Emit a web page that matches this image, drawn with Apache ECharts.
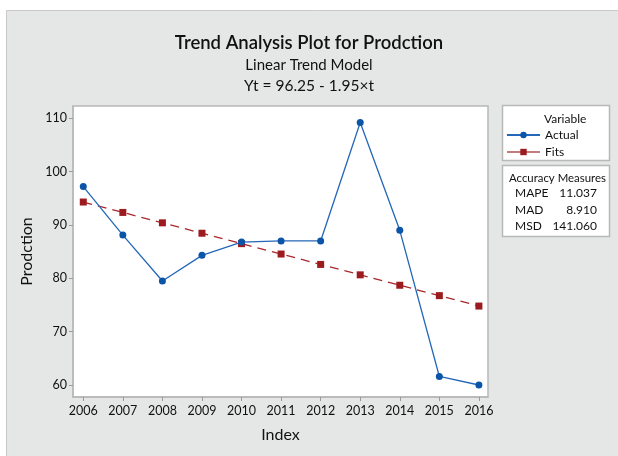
<!DOCTYPE html>
<html><head><meta charset="utf-8">
<script src="https://cdn.jsdelivr.net/npm/echarts@6/dist/echarts.min.js"></script>
<style>html,body{margin:0;padding:0;background:#fff}#c{width:618px;height:456px}</style>
</head><body><div id="c"></div>
<script>
const years = [2006,2007,2008,2009,2010,2011,2012,2013,2014,2015,2016];
const actual = [97.2,88.1,79.5,84.3,86.8,87.0,87.0,109.2,89.0,61.6,60.0];
const fits = [94.30,92.35,90.40,88.45,86.50,84.55,82.60,80.65,78.70,76.75,74.80];
const yTicks = [60,70,80,90,100,110];
const measureNames = ['MAPE','MAD','MSD'];
const measureValues = ['11.037','8.910','141.060'];

const FONT = 'Lato, "Open Sans", sans-serif';
const chart = echarts.init(document.getElementById('c'));
const txt = (x,y,s,opt) => Object.assign({type:'text',x:x,y:y,style:Object.assign({text:s,fill:'#111',font:'12px '+FONT,textVerticalAlign:'middle'},opt||{})});
const graphics = [
  {type:'rect',shape:{x:6.5,y:10.5,width:620,height:460},style:{fill:'#e5e6e6',stroke:'#c9c9c9',lineWidth:1},z:-10},
  {type:'rect',shape:{x:502.5,y:105.5,width:107,height:55},style:{fill:'#fff',stroke:'#b8b8b8',lineWidth:1.5},z:0},
  {type:'rect',shape:{x:502.5,y:165.5,width:107,height:71},style:{fill:'#fff',stroke:'#b8b8b8',lineWidth:1.5},z:0},
  txt(544,119,'Variable',{font:'12px '+FONT}),
  txt(509,178,'Accuracy Measures',{font:'11.4px '+FONT}),
];
measureNames.forEach((n,i)=>{
  const y = [193,210,226][i];
  graphics.push(txt(515,y,n,{font:'12px '+FONT}));
  graphics.push(txt(597,y,measureValues[i],{font:'12px '+FONT,textAlign:'right'}));
});
chart.setOption({
  animation:false,
  backgroundColor:'#fff',
  title:[
    {text:'Trend Analysis Plot for Prodction',left:'center',top:29,textStyle:{fontFamily:FONT,fontSize:18.5,fontWeight:600,color:'#111'}},
    {text:'Linear Trend Model',left:'center',top:53,textStyle:{fontFamily:FONT,fontSize:15,fontWeight:'normal',color:'#111'}},
    {text:'Yt = 96.25 - 1.95\u00d7t',left:'center',top:73,textStyle:{fontFamily:FONT,fontSize:15.5,fontWeight:'normal',color:'#111'}}
  ],
  graphic:graphics,
  legend:{
    orient:'vertical',left:501,top:124,itemWidth:33,itemHeight:8,itemGap:5,
    textStyle:{fontFamily:FONT,fontSize:12,color:'#111'},
    data:[
      {name:'Actual'},
      {name:'Fits',itemStyle:{color:'#9c1b1f'},lineStyle:{color:'#c47b7b',type:'solid'}}
    ]
  },
  grid:{left:73,right:130,top:106,bottom:59,show:true,backgroundColor:'#fff',borderColor:'#b8b8b8',borderWidth:1.5},
  xAxis:{
    type:'value',min:2005.74,max:2016.23,
    name:'Index',nameLocation:'middle',nameGap:30,
    nameTextStyle:{fontFamily:FONT,fontSize:16,color:'#111'},
    axisLine:{show:true,lineStyle:{color:'#b8b8b8',width:1.5}},
    axisTick:{show:true,length:4,lineStyle:{color:'#999'},customValues:years},
    axisLabel:{customValues:years,fontFamily:FONT,fontSize:12.5,color:'#111',margin:7,formatter:v=>String(Math.round(v))},
    splitLine:{show:false}
  },
  yAxis:{
    type:'value',min:57.75,max:112.3,
    name:'Prodction',nameLocation:'middle',nameGap:30,nameRotate:90,
    nameTextStyle:{fontFamily:FONT,fontSize:16,color:'#111'},
    axisLine:{show:true,lineStyle:{color:'#b8b8b8',width:1.5}},
    axisTick:{show:true,length:4,lineStyle:{color:'#999'},customValues:yTicks},
    axisLabel:{customValues:yTicks,fontFamily:FONT,fontSize:12.5,color:'#111',margin:6},
    splitLine:{show:false}
  },
  series:[
    {name:'Actual',type:'line',data:years.map((y,i)=>[y,actual[i]]),
     symbol:'circle',symbolSize:7,color:'#0b55a8',
     itemStyle:{color:'#0b55a8'},lineStyle:{color:'#2367b8',width:1.3},z:3},
    {name:'Fits',type:'line',data:years.map((y,i)=>[y,fits[i]]),
     symbol:'rect',symbolSize:7,color:'#9c1b1f',
     itemStyle:{color:'#9c1b1f'},lineStyle:{color:'#a8282c',width:1.3,type:[9,6]},z:2}
  ]
});
</script></body></html>
